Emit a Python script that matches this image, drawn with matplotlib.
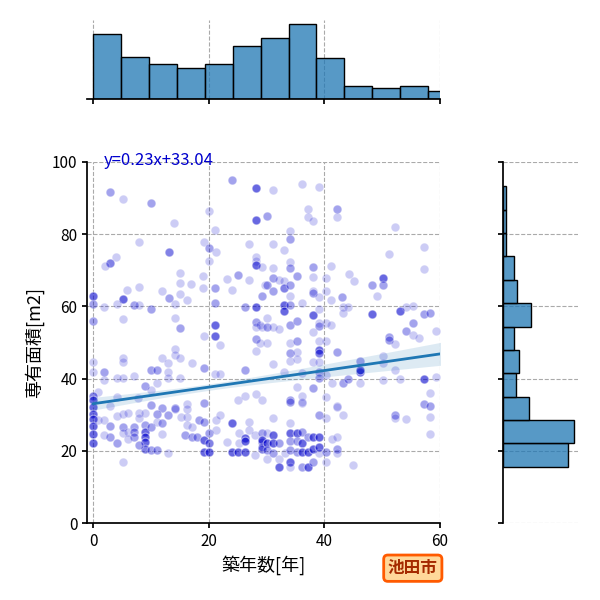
import matplotlib
matplotlib.use('Agg')
import matplotlib.pyplot as plt
from matplotlib.colors import to_rgba
import numpy as np

plt.rcParams['font.family'] = ['Noto Sans CJK JP', 'DejaVu Sans']

# 築年数 / 専有面積 / 同じ位置に重なっている件数 (region by region)
build_age = [
    2.9, 5.1, 10.1, 24.0, 28.1, 20.1, 28.1, 14.0, 21.1, 8.0, 19.1, 13.1, 20.1, 21.2, 20.1, 27.0, 28.1, 28.1, 28.1, 29.2, 4.0, 3.0, 2.0, 15.1, 19.0, 15.1, 17.0, 23.1, 25.1, 27.0, 8.0, 5.9, 11.9, 19.0, 21.1, 24.0, 29.7, 0.0, 5.1, 13.1, 15.1, 29.2,
    36.2, 31.2, 39.1, 30.1, 37.2, 37.2, 38.1, 42.2, 42.2, 52.3, 34.1, 34.1, 31.2, 33.0, 51.2, 57.3, 57.3, 34.1, 34.1, 31.2, 38.1, 41.2, 35.2, 31.2, 32.2, 33.1, 30.1, 33.1, 34.1, 38.1, 40.2, 44.2, 45.2, 50.2, 50.2, 48.2, 38.1, 38.1, 40.2, 31.2, 43.1, 49.1, 34.1,
    0.0, 0.0, 1.9, 4.1, 7.0, 8.0, 10.1, 14.1, 16.2, 14.1, 15.1, 5.1, 19.1, 21.1, 21.1, 21.1, 22.0, 26.2, 28.1, 28.1, 28.1, 28.1, 28.1, 29.2,
    0.0, 0.0, 1.9, 1.9, 5.1, 5.1, 4.1, 5.1, 7.0, 10.1, 11.0, 12.0, 13.0, 14.1, 14.1, 15.1, 13.0, 11.0, 13.0, 15.1, 17.1, 19.1, 21.1, 22.0, 26.2,
    0.9, 0.0, 0.0, 9.0, 10.1, 7.8, 4.1, 25.1, 26.2, 28.1, 19.1, 29.2, 10.1, 12.0, 14.1, 2.9,
    39.1, 41.2, 33.0, 33.0, 34.1, 36.2, 38.1, 39.1, 43.2, 43.2, 44.1, 48.2, 53.1, 54.2, 55.3, 57.3, 58.3,
    28.9, 30.1, 31.2, 32.2, 30.1, 34.1, 35.2, 39.1, 39.1, 40.2, 41.2, 38.1, 28.9, 30.1, 34.1, 35.2, 39.1, 40.2, 39.1, 39.1, 34.1, 34.1, 35.2, 35.2, 42.2, 38.1, 39.1, 31.2,
    46.2, 46.2, 46.2, 50.2, 50.2, 51.2, 51.2, 52.2, 54.1, 55.3, 55.3, 56.3, 59.3, 52.2,
    33.0, 36.1, 39.1, 39.1, 40.2, 41.3, 43.2, 44.1, 46.2, 50.2, 53.1, 57.3, 59.3, 35.2, 38.1, 34.1, 36.2, 36.2, 40.2, 42.2, 57.3, 58.3, 58.3,
    0.0, 0.0, 0.0, 0.0, 0.0, 0.0, 0.9, 1.9, 2.9, 2.9, 1.9, 4.1, 4.1, 5.1, 6.0, 5.1, 5.1, 6.0, 7.0, 7.0, 7.0, 6.0, 8.0, 8.0, 9.0, 9.0, 9.0, 9.0, 9.0, 9.0, 8.0,
    10.1, 11.0, 12.0, 11.0, 13.0, 14.1, 12.0, 10.1, 11.0, 13.0, 5.1, 15.2, 16.2, 16.2, 17.1, 15.9, 17.1, 18.0, 16.2, 16.2, 18.3, 19.1, 19.1, 19.1,
    20.1, 20.1, 20.1, 21.2, 21.2, 22.0, 23.2, 24.0, 24.0, 25.1, 26.2, 25.2, 25.2, 26.2, 26.2, 27.0, 27.0, 28.0, 28.0, 29.2, 29.2, 29.2,
    29.2, 29.2, 30.1, 30.1, 30.1, 30.1, 31.2, 31.2, 31.2, 32.2, 32.2, 32.2, 33.2, 34.1, 34.1, 34.1, 34.1, 34.1, 35.2, 35.2, 35.2,
    36.2, 36.2, 36.2, 36.2, 37.2, 37.2, 37.2, 38.1, 38.1, 38.1, 39.1, 39.1, 39.1, 40.2, 40.2, 41.3, 42.2, 42.2, 42.2, 45.0,
    34.1, 36.2, 31.2, 34.1, 39.1, 40.2, 42.2, 43.2, 52.2, 52.2, 54.2, 58.3, 58.3,
]
floor_area = [
    91.6, 89.7, 88.6, 94.9, 92.7, 86.4, 84.0, 83.0, 81.2, 77.8, 77.8, 75.0, 76.1, 75.0, 72.7, 77.3, 73.8, 72.6, 71.5, 71.0, 73.8, 71.9, 71.2, 69.3, 68.4, 66.4, 66.1, 67.6, 68.6, 67.3, 65.3, 64.5, 64.3, 65.1, 65.0, 64.5, 65.9, 62.9, 62.0, 62.3, 63.5, 62.9,
    93.9, 92.2, 93.0, 85.0, 86.9, 84.7, 83.7, 86.9, 84.7, 81.9, 80.9, 78.8, 77.3, 75.6, 74.4, 76.4, 70.3, 72.2, 70.6, 70.6, 70.8, 71.1, 68.5, 67.9, 67.4, 67.1, 65.8, 65.1, 65.8, 68.2, 68.0, 68.9, 67.0, 67.9, 65.8, 65.8, 64.2, 63.6, 64.3, 64.2, 62.7, 62.9, 62.9,
    60.6, 56.0, 59.9, 60.8, 60.4, 60.4, 59.2, 60.7, 61.8, 56.7, 53.9, 56.4, 51.8, 60.9, 54.8, 51.8, 49.3, 59.8, 59.8, 55.8, 54.4, 51.0, 47.6, 54.4,
    44.7, 41.9, 41.9, 39.6, 45.6, 44.5, 40.1, 40.1, 40.7, 42.4, 42.4, 45.6, 44.4, 48.1, 46.5, 45.6, 41.9, 38.9, 40.1, 40.1, 44.2, 42.9, 41.3, 41.3, 42.3,
    36.4, 35.1, 34.0, 38.0, 36.8, 34.5, 35.0, 34.1, 35.2, 35.7, 33.3, 34.1, 32.7, 31.8, 31.8, 32.4,
    62.7, 61.8, 60.4, 58.8, 60.4, 60.9, 57.6, 59.2, 59.9, 58.2, 59.9, 57.9, 58.8, 59.9, 60.1, 57.9, 58.1,
    54.8, 54.2, 54.2, 53.7, 56.7, 54.8, 56.0, 55.5, 54.6, 55.3, 54.8, 53.0, 49.8, 49.8, 49.8, 50.5, 50.3, 50.3, 47.9, 47.2, 47.0, 44.9, 47.5, 45.4, 47.4, 44.6, 44.6, 44.0,
    44.9, 41.9, 42.5, 46.3, 44.2, 51.4, 50.7, 49.5, 53.2, 55.3, 52.1, 51.2, 53.2, 42.4,
    41.9, 41.5, 41.9, 40.1, 40.9, 38.9, 38.7, 39.9, 38.9, 39.6, 39.9, 39.8, 40.5, 37.8, 37.3, 34.1, 35.2, 33.3, 34.8, 32.3, 33.0, 32.4, 36.1,
    32.2, 30.2, 28.7, 26.9, 24.6, 22.1, 28.4, 28.4, 26.9, 23.9, 24.4, 29.6, 22.3, 30.2, 30.6, 26.7, 24.8, 25.3, 26.7, 25.3, 23.9, 23.2, 30.4, 29.0, 30.4, 27.1, 25.3, 23.7, 22.5, 20.6, 21.6,
    26.7, 28.0, 27.6, 30.2, 29.9, 31.5, 24.6, 20.2, 20.2, 19.3, 17.0, 29.5, 29.5, 27.1, 26.7, 24.4, 23.9, 23.9, 33.1, 31.7, 28.5, 28.0, 23.0, 19.8,
    24.8, 22.1, 19.8, 25.7, 28.5, 29.9, 22.5, 27.6, 19.8, 19.8, 19.8, 24.8, 22.1, 23.5, 22.6, 28.0, 25.7, 24.4, 18.9, 24.8, 22.5, 20.6,
    23.0, 21.1, 24.8, 22.1, 20.2, 17.6, 24.4, 22.1, 19.3, 22.1, 17.6, 15.6, 19.3, 24.8, 22.6, 20.2, 17.0, 15.6, 24.8, 22.6, 19.8,
    25.3, 22.1, 19.8, 15.6, 23.9, 19.8, 15.6, 23.9, 20.6, 17.0, 23.9, 21.1, 19.3, 19.8, 17.0, 23.4, 23.9, 20.6, 19.3, 16.1,
    33.6, 33.6, 29.0, 27.8, 29.9, 29.0, 32.0, 29.9, 29.9, 29.0, 28.7, 29.4, 24.6,
]
stacked = [
    2, 1, 2, 2, 4, 1, 4, 1, 1, 1, 1, 3, 2, 1, 1, 1, 1, 1, 4, 1, 1, 3, 1, 1, 1, 1, 1, 1, 2, 1, 1, 1, 1, 1, 2, 1, 1, 4, 4, 2, 1, 2,
    1, 1, 1, 2, 1, 1, 1, 2, 1, 1, 1, 2, 1, 1, 1, 1, 1, 1, 2, 1, 2, 1, 2, 2, 1, 1, 2, 3, 2, 1, 1, 1, 1, 4, 2, 2, 1, 2, 1, 2, 2, 1, 1,
    2, 2, 1, 1, 2, 1, 2, 1, 1, 1, 2, 1, 1, 2, 4, 4, 1, 2, 4, 2, 1, 2, 1, 1,
    1, 1, 2, 1, 1, 1, 1, 1, 1, 2, 2, 1, 1, 1, 1, 1, 1, 1, 1, 1, 1, 2, 1, 1, 2,
    1, 3, 4, 2, 1, 1, 1, 1, 1, 1, 2, 1, 2, 2, 2, 1,
    1, 1, 4, 4, 2, 1, 4, 1, 1, 1, 1, 4, 4, 1, 1, 2, 2,
    1, 2, 1, 1, 1, 2, 2, 1, 2, 1, 1, 1, 1, 1, 1, 2, 1, 1, 4, 3, 2, 1, 1, 1, 2, 1, 1, 1,
    2, 4, 4, 1, 1, 2, 2, 1, 2, 2, 1, 1, 1, 1,
    1, 1, 2, 2, 1, 1, 2, 2, 1, 1, 1, 4, 1, 1, 2, 2, 1, 1, 1, 1, 2, 2, 1,
    4, 4, 4, 4, 4, 4, 1, 1, 2, 2, 1, 1, 2, 1, 1, 2, 1, 1, 2, 2, 2, 1, 1, 1, 1, 2, 4, 4, 4, 3, 2,
    2, 1, 2, 2, 2, 1, 1, 2, 2, 1, 1, 1, 1, 1, 1, 2, 2, 2, 1, 1, 2, 2, 4, 4,
    2, 3, 4, 1, 1, 1, 1, 4, 4, 4, 4, 1, 1, 4, 4, 1, 1, 1, 1, 2, 3, 3,
    4, 2, 1, 4, 2, 1, 4, 4, 2, 2, 1, 4, 1, 4, 2, 2, 4, 1, 4, 2, 2,
    2, 4, 4, 2, 2, 4, 4, 4, 4, 2, 4, 4, 1, 2, 1, 1, 1, 2, 1, 1,
    2, 1, 1, 1, 2, 1, 1, 1, 2, 1, 1, 1, 1,
]

# marginal histograms (bar heights)
age_bin_start, age_bin_width = 0.0, 4.83
age_counts = [97, 63, 52, 46, 52, 79, 91, 112, 61, 19, 16, 19, 12]
area_bin_start, area_bin_width = 15.6, 6.47
area_counts = [179, 195, 71, 36, 44, 31, 77, 39, 31, 9, 9, 9]

# regression y = 0.23x + 33.04 and its confidence band
reg_slope, reg_intercept = 0.23, 33.04
ci_center, ci_min, ci_growth = 20.0, 0.9, 0.076
age_max = 62.8

xs = np.repeat(build_age, stacked)
ys = np.repeat(floor_area, stacked)

fig = plt.figure(figsize=(6, 6), dpi=100)
ax = fig.add_axes([0.1455, 0.1283, 0.5878, 0.6017])
ax_top = fig.add_axes([0.1455, 0.835, 0.5878, 0.1317], sharex=ax)
ax_right = fig.add_axes([0.838, 0.1283, 0.125, 0.6017], sharey=ax)

grid_kw = dict(color='#aaaaaa', linestyle='--', linewidth=0.8)

ax.scatter(xs, ys, s=38, c='mediumblue', alpha=0.2, edgecolors='w', linewidths=0.75, zorder=2)

line_x = np.linspace(0, age_max, 100)
line_y = reg_slope * line_x + reg_intercept
half = np.sqrt(ci_min ** 2 + (ci_growth * (line_x - ci_center)) ** 2)
ax.fill_between(line_x, line_y - half, line_y + half, color='#1f77b4', alpha=0.15, linewidth=0, zorder=3)
ax.plot(line_x, line_y, color='#1f77b4', linewidth=2, zorder=4)

ax.text(1.8, 100.3, 'y=0.23x+33.04', color='mediumblue', fontsize=12, va='center', ha='left')

ax.set_xlim(-1, 60)
ax.set_ylim(0, 100)
ax.set_xticks([0, 20, 40, 60])
ax.set_yticks([0, 20, 40, 60, 80, 100])
ax.tick_params(labelsize=11, width=1.25)
ax.grid(True, **grid_kw)
ax.set_axisbelow(True)
for side in ['top', 'right']:
    ax.spines[side].set_visible(False)
for side in ['left', 'bottom']:
    ax.spines[side].set_linewidth(1.25)
ax.set_xlabel('築年数[年]', fontsize=13)
ax.set_ylabel('専有面積[m2]', fontsize=13, labelpad=6)

bar_face = to_rgba('#1f77b4', 0.75)

age_edges = age_bin_start + age_bin_width * np.arange(len(age_counts))
ax_top.bar(age_edges, age_counts, width=age_bin_width, align='edge',
           color=bar_face, edgecolor='black', linewidth=1)
ax_top.set_ylim(0, max(age_counts) * 1.05)
ax_top.grid(True, axis='x', **grid_kw)
ax_top.set_axisbelow(True)
ax_top.tick_params(labelbottom=False, left=False, labelleft=False, width=1.25)
for side in ['top', 'right', 'left']:
    ax_top.spines[side].set_visible(False)
ax_top.spines['bottom'].set_linewidth(1.25)

area_edges = area_bin_start + area_bin_width * np.arange(len(area_counts))
ax_right.barh(area_edges, area_counts, height=area_bin_width, align='edge',
              color=bar_face, edgecolor='black', linewidth=1)
ax_right.set_xlim(0, max(area_counts) * 1.05)
ax_right.grid(True, axis='y', **grid_kw)
ax_right.set_axisbelow(True)
ax_right.tick_params(labelleft=False, bottom=False, labelbottom=False, width=1.25)
for side in ['top', 'right', 'bottom']:
    ax_right.spines[side].set_visible(False)
ax_right.spines['left'].set_linewidth(1.25)

fig.text(0.688, 0.053, '池田市', fontsize=12, fontweight='bold', color='#a52a00',
         ha='center', va='center',
         bbox=dict(boxstyle='round,pad=0.25', facecolor='#ffd89a', edgecolor='#ff5a00', linewidth=2))

fig.savefig('out.png', dpi=100)
